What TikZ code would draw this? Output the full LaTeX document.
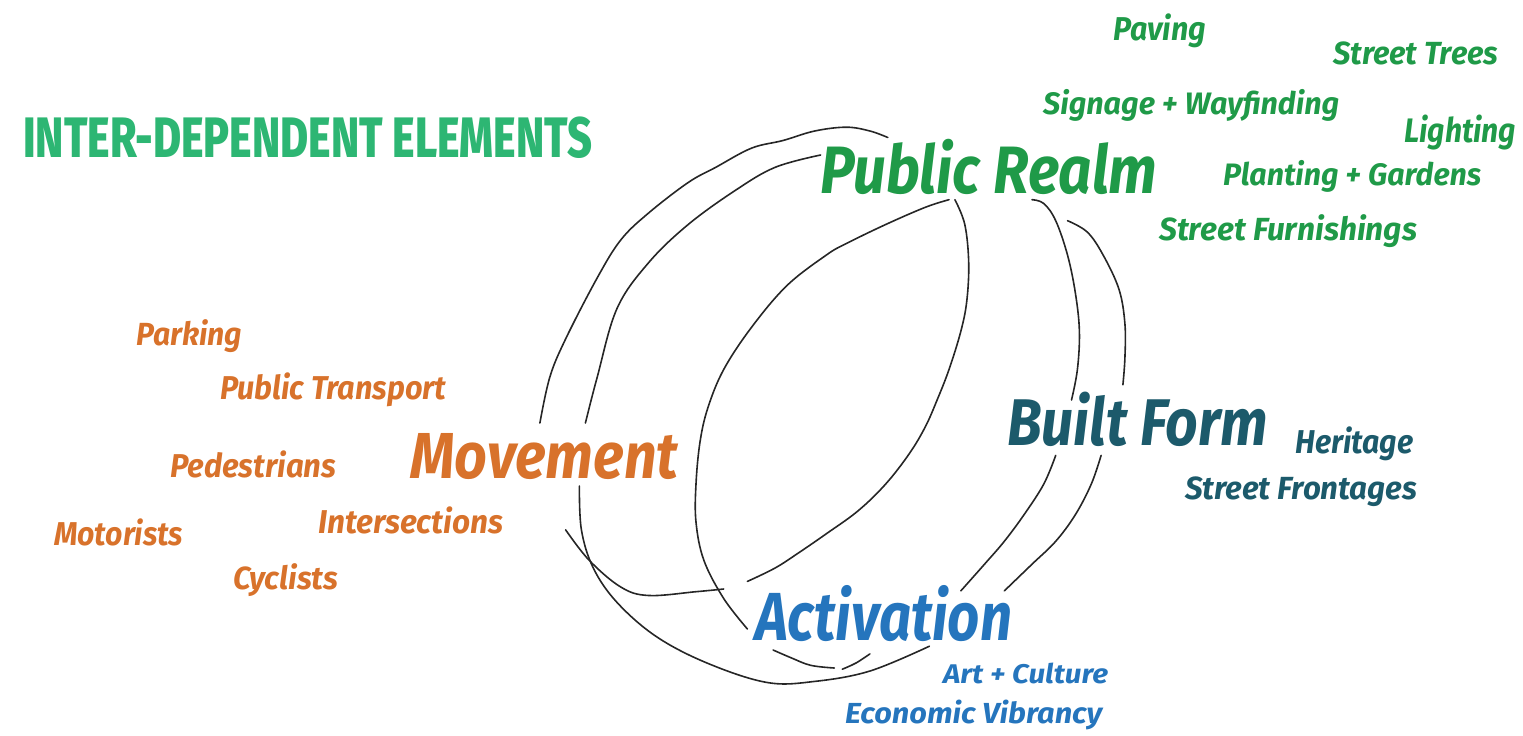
\documentclass[tikz,border=0pt]{standalone}
\usepackage{fontspec}
\usepackage{graphicx}
\setmainfont{Fira Sans}
\newfontfamily\labfont{Fira Sans Bold Italic}
\newfontfamily\headfont{Fira Sans ExtraBold}

\definecolor{headgreen}{HTML}{2DB673}
\definecolor{realmgreen}{HTML}{1F9A48}
\definecolor{moveorange}{HTML}{D8722B}
\definecolor{builtteal}{HTML}{1C5A6B}
\definecolor{activblue}{HTML}{2575BD}
\definecolor{pencil}{HTML}{262626}

% text of size #2 squeezed or stretched to width #1 (in pt)
\newcommand\fitlabel[3]{\resizebox{#1pt}{\height}{\labfont\fontsize{#2}{#2}\selectfont #3}}
\newcommand\fithead[3]{\resizebox{#1pt}{\height}{\headfont\fontsize{#2}{#2}\selectfont #3}}

\tikzset{
  word/.style={inner sep=0pt, anchor=base west},
  realm/.style={word, text=realmgreen},
  move/.style={word, text=moveorange},
  built/.style={word, text=builtteal},
  activ/.style={word, text=activblue},
  sketch/.style={draw=pencil, line width=1.6pt, line cap=round, line join=round},
}

\begin{document}
\begin{tikzpicture}[x=1pt, y=-1pt]
\useasboundingbox (0,0) rectangle (1523,736);

% ---- pencil sketch of the sphere ----
% outer left arc
\draw[sketch] plot[smooth, tension=0.6] coordinates {
  (887.8,137.5) (869.9,131) (846.3,127.2) (814.7,131) (783,140.5) (751.4,148.2)
  (715.8,167.3) (688.2,182.5) (648.6,213) (620.9,239.8) (597.2,277.9)
  (565.6,339) (549.8,377.2) (539.9,423)};
% inner left arc, upper part
\draw[sketch] plot[smooth, tension=0.6] coordinates {
  (820.6,155) (775.2,167.3) (735.6,190.2) (688.2,224.5) (648.6,262.7)
  (617,308.5) (597.2,377.2) (585.4,423)};
% inner left arc, continued round the bottom
\draw[sketch] plot[smooth, tension=0.6] coordinates {
  (579.4,486) (581.4,529.8) (593.3,568) (617,602.4) (656.5,636.7)
  (707.9,663.4) (767.2,682.5) (814.7,681.4) (870,671) (929.4,646.2)};
% chord across the lower left
\draw[sketch] plot[smooth, tension=0.6] coordinates {
  (565.6,529.8) (589.3,560.4) (620.9,587.1) (648.6,595.5) (696,591.7) (723.7,589)};
% central lens, left side
\draw[sketch] plot[smooth, tension=0.6] coordinates {
  (949,199.7) (925.3,207.3) (885.7,224.5) (846.2,243.6) (826.4,255)
  (786.9,285.6) (751.3,327.6) (723.7,369.5) (707.9,407.7) (700,442)
  (696,484) (696,522.2) (703.9,560.4) (723.7,598.5) (747.4,629)};
% central lens, right side
\draw[sketch] plot[smooth, tension=0.6] coordinates {
  (954.9,199.7) (964.8,224.5) (968.7,262.7) (966.8,300.8) (960.8,331.4)
  (949,369.5) (937.1,400) (925.3,426.8) (909.4,453.5) (885.7,484)
  (858.1,510.8) (826.4,533.7) (798.8,552.7) (775.1,568) (747.4,581.4)};
% right inner arc
\draw[sketch] plot[smooth, tension=0.6] coordinates {
  (1032,199.7) (1043.8,203.5) (1055.7,220.7) (1067.5,255) (1075.4,293.2)
  (1079.4,331.4) (1077.4,369.5) (1071.5,400)};
\draw[sketch] plot[smooth, tension=0.6] coordinates {
  (1055.7,455.4) (1043.8,484) (1024.1,514.6) (1004.3,541.3) (984.5,564.2) (960.8,590.9)};
% right outer arc
\draw[sketch] plot[smooth, tension=0.6] coordinates {
  (1067.5,220.7) (1087.3,232.1) (1103.1,255) (1119,289.4) (1124.9,323.7)
  (1124.9,358.1) (1122.9,384.8)};
\draw[sketch] plot[smooth, tension=0.6] coordinates {
  (1101.1,455.4) (1091.3,484) (1075.4,514.6) (1055.7,541.3) (1032,564.2) (1004.3,590.9)};
% short strokes under the bottom
\draw[sketch] plot[smooth, tension=0.6] coordinates {
  (773.1,650) (790.9,657.7) (810.6,665.3) (834.3,668)};
\draw[sketch] plot[smooth, tension=0.6] coordinates {
  (842.3,669.2) (856,663) (869.9,653.9)};

% ---- heading ----
\node[word, text=headgreen] (heading) at (23,157) {\fithead{569}{57}{INTER-DEPENDENT ELEMENTS}};

% ---- public realm ----
\node[realm] (publicrealm) at (820,193) {\fitlabel{337}{67}{Public Realm}};
\node[realm] (paving)      at (1113,40)  {\fitlabel{93}{33}{Paving}};
\node[realm] (streettrees) at (1333,64)  {\fitlabel{165}{32}{Street Trees}};
\node[realm] (signage)     at (1043,114) {\fitlabel{296}{31}{Signage + Wayfinding}};
\node[realm] (lighting)    at (1404,142) {\fitlabel{112}{34}{Lighting}};
\node[realm] (planting)    at (1223,185) {\fitlabel{258}{31}{Planting + Gardens}};
\node[realm] (furnish)     at (1159,240) {\fitlabel{258}{32}{Street Furnishings}};

% ---- movement ----
\node[move] (movement)     at (410,478) {\fitlabel{268}{65}{Movement}};
\node[move] (parking)      at (136,345) {\fitlabel{106}{32}{Parking}};
\node[move] (transport)    at (220,399) {\fitlabel{226}{33}{Public Transport}};
\node[move] (pedestrians)  at (170,477) {\fitlabel{166}{33}{Pedestrians}};
\node[move] (motorists)    at (54,545)  {\fitlabel{129}{33}{Motorists}};
\node[move] (intersect)    at (318,533) {\fitlabel{185}{33}{Intersections}};
\node[move] (cyclists)     at (233,589) {\fitlabel{105}{32}{Cyclists}};

% ---- built form ----
\node[built] (builtform)   at (1007,445) {\fitlabel{261}{66}{Built Form}};
\node[built] (heritage)    at (1295,453) {\fitlabel{118}{33}{Heritage}};
\node[built] (frontages)   at (1185,499) {\fitlabel{232}{32}{Street Frontages}};

% ---- activation ----
\node[activ] (activation)  at (755,640) {\fitlabel{257}{68}{Activation}};
\node[activ] (artculture)  at (943,683) {\fitlabel{165}{27}{Art + Culture}};
\node[activ] (economic)    at (845,723) {\fitlabel{257}{29}{Economic Vibrancy}};
\end{tikzpicture}
\end{document}
